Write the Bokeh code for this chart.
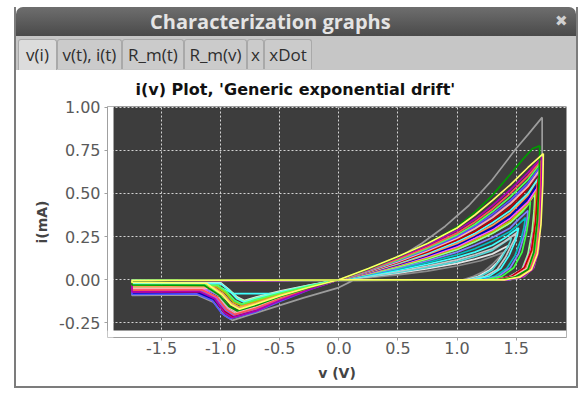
from bokeh.plotting import figure
from bokeh.models import (Div, Column, Range1d, FixedTicker, NumeralTickFormatter,
                          BoxAnnotation)
from bokeh.embed import file_html
from bokeh.resources import INLINE

# ---------------- data (v in V, i in mA) ----------------
x_ticks = [-1.5, -1.0, -0.5, 0.0, 0.5, 1.0, 1.5]
y_ticks = [-0.25, 0.0, 0.25, 0.5, 0.75, 1.0]

loop_gray_outer = [(0, -0.005), (1.0, 0.0), (1.45, 0.0), (1.57, 0.02), (1.65, 0.07), (1.69, 0.18), (1.71, 0.4), (1.72, 0.7), (1.72, 0.94),
                   (1.6, 0.84), (1.5, 0.76), (1.3, 0.58), (1.1, 0.43), (0.9, 0.31), (0.7, 0.21), (0.5, 0.125), (0.25, 0.04), (0, -0.045),
                   (-0.3, -0.105), (-0.6, -0.17), (-0.9, -0.235), (-0.97, -0.205), (-1.06, -0.13), (-1.2, -0.088), (-1.75, -0.09), (-1.75, -0.01), (0, -0.005)]
loop_gray_small = [(0, 0), (1.0, 0.0), (1.05, 0.0), (1.14, 0.02), (1.23, 0.05), (1.3, 0.09), (1.35, 0.125), (1.38, 0.145), (1.40, 0.16),
                   (1.2, 0.11), (1.0, 0.08), (0.75, 0.05), (0.5, 0.028), (0.25, 0.012), (0, 0),
                   (-0.25, -0.052), (-0.5, -0.113), (-0.7, -0.168), (-0.88, -0.205), (-0.95, -0.175), (-1.03, -0.108), (-1.15, -0.065), (-1.75, -0.068), (-1.75, -0.008), (0, 0)]
loop_white = [(0, 0), (1.0, 0.0), (1.08, 0.0), (1.18, 0.02), (1.27, 0.055), (1.34, 0.1), (1.39, 0.15), (1.42, 0.18), (1.44, 0.20),
              (1.3, 0.15), (1.15, 0.12), (1.0, 0.095), (0.75, 0.064), (0.5, 0.038), (0.25, 0.018), (0, 0),
              (-0.25, -0.03), (-0.5, -0.066), (-0.7, -0.1), (-0.8, -0.12), (-0.86, -0.1), (-0.93, -0.055), (-1.0, -0.017), (-1.75, -0.015), (-1.75, -0.003), (0, 0)]
loop_cyan_small = [(0, 0), (1.0, 0.0), (1.1, 0.0), (1.2, 0.02), (1.3, 0.06), (1.37, 0.12), (1.42, 0.18), (1.45, 0.22), (1.46, 0.245),
                   (1.3, 0.17), (1.15, 0.135), (1.0, 0.105), (0.75, 0.072), (0.5, 0.043), (0.25, 0.02), (0, 0),
                   (-0.25, -0.042), (-0.5, -0.09), (-0.7, -0.135), (-0.84, -0.16), (-0.91, -0.135), (-0.98, -0.08), (-1.1, -0.045), (-1.75, -0.045), (-1.75, -0.006), (0, 0)]
loop_light_gray = [(0, 0), (1.0, 0.0), (1.12, 0.0), (1.24, 0.02), (1.34, 0.06), (1.41, 0.13), (1.46, 0.2), (1.49, 0.24), (1.50, 0.27),
                   (1.4, 0.22), (1.3, 0.18), (1.15, 0.145), (1.0, 0.115), (0.75, 0.08), (0.5, 0.048), (0.25, 0.022), (0, 0),
                   (-0.25, -0.05), (-0.5, -0.11), (-0.7, -0.162), (-0.86, -0.2), (-0.93, -0.172), (-1.01, -0.105), (-1.15, -0.063), (-1.75, -0.065), (-1.75, -0.008), (0, 0)]
loop_cyan_flat = [(0, 0), (1.0, 0.0), (1.15, 0.0), (1.27, 0.02), (1.37, 0.065), (1.44, 0.14), (1.49, 0.22), (1.51, 0.26), (1.52, 0.30),
                  (1.4, 0.24), (1.3, 0.20), (1.15, 0.16), (1.0, 0.13), (0.75, 0.09), (0.5, 0.055), (0.25, 0.026), (0, 0),
                  (-0.25, -0.04), (-0.49, -0.08), (-0.89, -0.08), (-0.97, -0.055), (-1.05, -0.032), (-1.75, -0.03), (-1.75, -0.005), (0, 0)]
loop_dark_cyan = [(0, 0), (1.0, 0.0), (1.2, 0.0), (1.32, 0.02), (1.42, 0.065), (1.49, 0.14), (1.54, 0.23), (1.565, 0.30), (1.58, 0.36),
                  (1.52, 0.32), (1.45, 0.28), (1.3, 0.225), (1.15, 0.18), (1.0, 0.145), (0.75, 0.10), (0.5, 0.062), (0.25, 0.03), (0, 0),
                  (-0.25, -0.036), (-0.5, -0.078), (-0.7, -0.118), (-0.82, -0.145), (-0.89, -0.125), (-0.96, -0.072), (-1.05, -0.032), (-1.75, -0.03), (-1.75, -0.005), (0, 0)]
loop_very_light_blue = [(0, 0), (1.0, 0.0), (1.22, 0.0), (1.35, 0.02), (1.45, 0.07), (1.52, 0.15), (1.565, 0.25), (1.59, 0.33), (1.60, 0.40),
                        (1.52, 0.35), (1.45, 0.30), (1.3, 0.245), (1.15, 0.20), (1.0, 0.16), (0.75, 0.11), (0.5, 0.068), (0.25, 0.032), (0, 0),
                        (-0.25, -0.046), (-0.5, -0.1), (-0.7, -0.15), (-0.86, -0.185), (-0.93, -0.16), (-1.0, -0.095), (-1.12, -0.057), (-1.75, -0.055), (-1.75, -0.007), (0, 0)]
loop_green = [(0, 0), (1.0, 0.0), (1.25, 0.0), (1.38, 0.02), (1.48, 0.07), (1.55, 0.16), (1.59, 0.28), (1.61, 0.37), (1.62, 0.45),
              (1.55, 0.39), (1.45, 0.33), (1.3, 0.27), (1.15, 0.22), (1.0, 0.175), (0.75, 0.12), (0.5, 0.075), (0.25, 0.035), (0, 0),
              (-0.25, -0.042), (-0.5, -0.09), (-0.7, -0.136), (-0.84, -0.17), (-0.91, -0.145), (-0.99, -0.085), (-1.08, -0.047), (-1.75, -0.045), (-1.75, -0.006), (0, 0)]
loop_very_light_green = [(0, 0), (1.0, 0.0), (1.32, 0.0), (1.44, 0.017), (1.55, 0.06), (1.60, 0.15), (1.635, 0.28), (1.652, 0.40), (1.66, 0.50),
                         (1.58, 0.42), (1.45, 0.33), (1.3, 0.27), (1.15, 0.22), (1.0, 0.176), (0.75, 0.122), (0.5, 0.076), (0.25, 0.035), (0, 0),
                         (-0.25, -0.032), (-0.5, -0.07), (-0.7, -0.104), (-0.8, -0.125), (-0.86, -0.105), (-0.93, -0.058), (-1.0, -0.022), (-1.75, -0.02), (-1.75, -0.004), (0, 0)]
loop_dark_yellow = [(0, 0), (1.0, 0.0), (1.38, 0.0), (1.50, 0.016), (1.59, 0.06), (1.63, 0.15), (1.65, 0.28), (1.662, 0.41), (1.67, 0.52),
                    (1.6, 0.44), (1.45, 0.34), (1.3, 0.28), (1.15, 0.23), (1.0, 0.184), (0.75, 0.128), (0.5, 0.08), (0.25, 0.037), (0, 0),
                    (-0.25, -0.039), (-0.5, -0.083), (-0.7, -0.125), (-0.82, -0.15), (-0.89, -0.13), (-0.96, -0.075), (-1.04, -0.037), (-1.75, -0.035), (-1.75, -0.005), (0, 0)]
loop_magenta = [(0, 0), (1.0, 0.0), (1.33, 0.0), (1.45, 0.018), (1.56, 0.065), (1.62, 0.16), (1.655, 0.3), (1.672, 0.43), (1.68, 0.54),
                (1.6, 0.45), (1.45, 0.355), (1.3, 0.29), (1.15, 0.24), (1.0, 0.192), (0.75, 0.134), (0.5, 0.084), (0.25, 0.039), (0, 0),
                (-0.25, -0.051), (-0.5, -0.11), (-0.7, -0.165), (-0.88, -0.2), (-0.95, -0.17), (-1.03, -0.105), (-1.14, -0.058), (-1.75, -0.06), (-1.75, -0.007), (0, 0)]
loop_dark_blue = [(0, 0), (1.0, 0.0), (1.42, 0.0), (1.54, 0.02), (1.62, 0.07), (1.66, 0.17), (1.68, 0.32), (1.687, 0.45), (1.69, 0.56),
                  (1.6, 0.47), (1.45, 0.37), (1.3, 0.30), (1.15, 0.25), (1.0, 0.20), (0.75, 0.14), (0.5, 0.088), (0.25, 0.041), (0, 0),
                  (-0.25, -0.055), (-0.5, -0.118), (-0.7, -0.177), (-0.9, -0.215), (-0.97, -0.185), (-1.05, -0.115), (-1.18, -0.078), (-1.75, -0.08), (-1.75, -0.009), (0, 0)]
loop_orange = [(0, 0), (1.0, 0.0), (1.35, 0.0), (1.47, 0.017), (1.57, 0.06), (1.63, 0.16), (1.66, 0.31), (1.675, 0.45), (1.68, 0.58),
               (1.6, 0.49), (1.45, 0.385), (1.3, 0.315), (1.15, 0.26), (1.0, 0.21), (0.75, 0.146), (0.5, 0.092), (0.25, 0.043), (0, 0),
               (-0.25, -0.042), (-0.5, -0.09), (-0.7, -0.135), (-0.84, -0.16), (-0.91, -0.135), (-0.98, -0.08), (-1.06, -0.042), (-1.75, -0.04), (-1.75, -0.005), (0, 0)]
loop_light_cyan = [(0, 0), (1.0, 0.0), (1.40, 0.0), (1.52, 0.015), (1.61, 0.055), (1.66, 0.15), (1.685, 0.3), (1.695, 0.46), (1.70, 0.60),
                   (1.6, 0.50), (1.45, 0.40), (1.3, 0.33), (1.15, 0.27), (1.0, 0.22), (0.75, 0.153), (0.5, 0.096), (0.25, 0.045), (0, 0),
                   (-0.25, -0.033), (-0.5, -0.072), (-0.7, -0.108), (-0.8, -0.13), (-0.86, -0.11), (-0.93, -0.06), (-1.0, -0.022), (-1.75, -0.02), (-1.75, -0.004), (0, 0)]
loop_dark_red = [(0, 0), (1.0, 0.0), (1.34, 0.0), (1.46, 0.02), (1.57, 0.07), (1.63, 0.17), (1.665, 0.34), (1.68, 0.5), (1.69, 0.62),
                 (1.6, 0.53), (1.45, 0.42), (1.3, 0.345), (1.15, 0.28), (1.0, 0.23), (0.75, 0.16), (0.5, 0.10), (0.25, 0.047), (0, 0),
                 (-0.25, -0.054), (-0.5, -0.116), (-0.7, -0.173), (-0.9, -0.21), (-0.97, -0.18), (-1.05, -0.11), (-1.16, -0.068), (-1.75, -0.07), (-1.75, -0.008), (0, 0)]
loop_purple = [(0, 0), (1.0, 0.0), (1.39, 0.0), (1.51, 0.017), (1.61, 0.062), (1.665, 0.16), (1.69, 0.32), (1.70, 0.49), (1.705, 0.63),
               (1.6, 0.545), (1.45, 0.445), (1.3, 0.365), (1.15, 0.30), (1.0, 0.245), (0.75, 0.172), (0.5, 0.108), (0.25, 0.051), (0, 0),
               (-0.25, -0.053), (-0.5, -0.114), (-0.7, -0.17), (-0.89, -0.205), (-0.96, -0.175), (-1.04, -0.108), (-1.17, -0.065), (-1.75, -0.068), (-1.75, -0.008), (0, 0)]
loop_pink = [(0, 0), (1.0, 0.0), (1.36, 0.0), (1.48, 0.018), (1.59, 0.065), (1.65, 0.17), (1.68, 0.34), (1.695, 0.5), (1.70, 0.64),
             (1.6, 0.54), (1.45, 0.44), (1.3, 0.36), (1.15, 0.295), (1.0, 0.24), (0.75, 0.168), (0.5, 0.105), (0.25, 0.05), (0, 0),
             (-0.25, -0.049), (-0.5, -0.105), (-0.7, -0.158), (-0.86, -0.19), (-0.93, -0.16), (-1.0, -0.095), (-1.1, -0.05), (-1.75, -0.05), (-1.75, -0.006), (0, 0)]
loop_blue = [(0, 0), (1.0, 0.0), (1.44, 0.0), (1.56, 0.02), (1.64, 0.07), (1.68, 0.17), (1.70, 0.34), (1.705, 0.52), (1.71, 0.66),
             (1.6, 0.56), (1.45, 0.46), (1.3, 0.38), (1.15, 0.31), (1.0, 0.25), (0.75, 0.175), (0.5, 0.11), (0.25, 0.052), (0, 0),
             (-0.25, -0.058), (-0.5, -0.125), (-0.7, -0.185), (-0.92, -0.225), (-0.99, -0.195), (-1.07, -0.12), (-1.2, -0.082), (-1.75, -0.085), (-1.75, -0.009), (0, 0)]
loop_light_green = [(0, 0), (1.0, 0.0), (1.38, 0.0), (1.50, 0.016), (1.60, 0.06), (1.66, 0.16), (1.685, 0.33), (1.695, 0.52), (1.70, 0.67),
                    (1.6, 0.58), (1.45, 0.48), (1.3, 0.395), (1.15, 0.32), (1.0, 0.26), (0.75, 0.182), (0.5, 0.115), (0.25, 0.055), (0, 0),
                    (-0.25, -0.036), (-0.5, -0.078), (-0.7, -0.115), (-0.82, -0.14), (-0.88, -0.12), (-0.95, -0.07), (-1.02, -0.032), (-1.75, -0.03), (-1.75, -0.005), (0, 0)]
loop_red = [(0, 0), (1.0, 0.0), (1.40, 0.0), (1.52, 0.018), (1.62, 0.065), (1.67, 0.16), (1.695, 0.34), (1.705, 0.55), (1.71, 0.69),
            (1.6, 0.60), (1.45, 0.50), (1.3, 0.41), (1.15, 0.335), (1.0, 0.27), (0.75, 0.19), (0.5, 0.12), (0.25, 0.057), (0, 0),
            (-0.25, -0.051), (-0.5, -0.11), (-0.7, -0.165), (-0.88, -0.20), (-0.95, -0.17), (-1.03, -0.10), (-1.16, -0.058), (-1.75, -0.06), (-1.75, -0.007), (0, 0)]
loop_dark_magenta = [(0, 0), (1.0, 0.0), (1.42, 0.0), (1.55, 0.015), (1.64, 0.06), (1.685, 0.15), (1.705, 0.32), (1.715, 0.55), (1.72, 0.71),
                     (1.6, 0.62), (1.45, 0.52), (1.3, 0.43), (1.15, 0.35), (1.0, 0.285), (0.75, 0.20), (0.5, 0.128), (0.25, 0.06), (0, 0),
                     (-0.25, -0.056), (-0.5, -0.12), (-0.7, -0.18), (-0.9, -0.22), (-0.97, -0.19), (-1.05, -0.11), (-1.18, -0.068), (-1.75, -0.07), (-1.75, -0.008), (0, 0)]
loop_dark_green = [(0, 0), (1.0, 0.0), (1.36, 0.0), (1.49, 0.015), (1.60, 0.06), (1.65, 0.16), (1.68, 0.35), (1.695, 0.6), (1.70, 0.775),
                   (1.64, 0.76), (1.56, 0.70), (1.45, 0.61), (1.3, 0.49), (1.15, 0.39), (1.0, 0.305), (0.75, 0.21), (0.5, 0.132), (0.25, 0.063), (0, 0),
                   (-0.25, -0.046), (-0.5, -0.098), (-0.7, -0.148), (-0.86, -0.18), (-0.93, -0.155), (-1.01, -0.09), (-1.14, -0.032), (-1.75, -0.03), (-1.75, -0.006), (0, 0)]
loop_yellow = [(0, 0), (1.0, 0.0), (1.40, 0.0), (1.53, 0.015), (1.63, 0.06), (1.68, 0.15), (1.71, 0.32), (1.725, 0.55), (1.73, 0.73),
               (1.6, 0.65), (1.45, 0.55), (1.3, 0.46), (1.15, 0.375), (1.0, 0.30), (0.75, 0.21), (0.5, 0.135), (0.25, 0.065), (0, 0),
               (-0.25, -0.043), (-0.5, -0.093), (-0.7, -0.14), (-0.84, -0.17), (-0.91, -0.145), (-0.99, -0.085), (-1.12, -0.02), (-1.75, -0.015), (-1.75, -0.004), (0, 0)]

loops = [loop_gray_outer, loop_gray_small, loop_white, loop_cyan_small, loop_light_gray, loop_cyan_flat,
         loop_dark_cyan, loop_very_light_blue, loop_green, loop_very_light_green, loop_dark_yellow,
         loop_magenta, loop_dark_blue, loop_orange, loop_light_cyan, loop_dark_red, loop_purple,
         loop_pink, loop_blue, loop_light_green, loop_red, loop_dark_magenta, loop_dark_green, loop_yellow]
loop_colors = ["#9c9c9c", "#8a8a8a", "#e6e6e6", "#4fd8d8", "#c8c8c8", "#40ffff",
               "#00c0c0", "#8080ff", "#40ff40", "#99ff99", "#c0c000",
               "#ff55ff", "#0000c0", "#ff9955", "#55ffff", "#c00000", "#9955dd",
               "#ffafaf", "#5555ff", "#55ff55", "#ff5555", "#b000b0", "#009a00", "#ffff66"]

tab_labels = ["v(i)", "v(t), i(t)", "R_m(t)", "R_m(v)", "x", "xDot"]

# ---------------- chart ----------------
W = 560
p = figure(width=W, height=316, output_backend="svg", toolbar_location=None,
           x_range=Range1d(-1.957, 1.926), y_range=Range1d(-0.334, 1.003),
           min_border_left=91, min_border_right=10, min_border_top=36, min_border_bottom=49,
           background_fill_color="#3d3d3d", border_fill_color="white", outline_line_color=None)

p.title.text = "i(v)  Plot, 'Generic exponential drift'"
p.title.text_font = "DejaVu Sans"
p.title.text_font_size = "16px"
p.title.text_font_style = "bold"
p.title.text_color = "#111111"
p.title.align = "left"
p.title.offset = 28
p.title.standoff = 15

for ax, ticks, fmt, bnds, lab, lstand in ((p.xaxis[0], x_ticks, "0.0", (-1.906, 1.926), "v (V)", 8),
                                          (p.yaxis[0], y_ticks, "0.00", (-0.293, 1.003), "i(mA)", 6)):
    ax.ticker = FixedTicker(ticks=ticks)
    ax.formatter = NumeralTickFormatter(format=fmt)
    ax.bounds = bnds
    ax.axis_label = lab
    ax.axis_label_text_font = "DejaVu Sans"
    ax.axis_label_text_font_size = "14px"
    ax.axis_label_text_font_style = "bold"
    ax.axis_label_text_color = "#444444"
    ax.axis_label_standoff = lstand
    ax.major_label_text_font = "DejaVu Sans"
    ax.major_label_text_font_size = "16px"
    ax.major_label_text_color = "#5a5a5a"
    ax.axis_line_color = "#a0a0a0"
    ax.major_tick_line_color = "#a0a0a0"
    ax.major_tick_out = 3
    ax.major_tick_in = 0
    ax.minor_tick_line_color = None
p.xaxis[0].major_label_standoff = 1
p.yaxis[0].major_label_standoff = 4

for g, ticks in ((p.xgrid[0], x_ticks), (p.ygrid[0], y_ticks)):
    g.ticker = FixedTicker(ticks=ticks)
    g.grid_line_color = "#d4d4d4"
    g.grid_line_dash = "2 2"
    g.grid_line_width = 1

# white gaps between the axes and the dark data area
p.add_layout(BoxAnnotation(right=-1.906, fill_color="white", fill_alpha=1.0, line_color=None, level="underlay"))
p.add_layout(BoxAnnotation(top=-0.293, fill_color="white", fill_alpha=1.0, line_color=None, level="underlay"))

for loop, col in zip(loops, loop_colors):
    p.line([pt[0] for pt in loop], [pt[1] for pt in loop], line_color=col, line_width=1.7)

# ---------------- window chrome ----------------
title_html = ('<div style="position:relative;width:%dpx;height:29px;overflow:hidden;">'
              '<span style="position:absolute;left:134px;top:0px;font-family:\'Open Sans\';font-weight:bold;'
              'font-size:20px;line-height:29px;color:#e4e4e4;white-space:nowrap;">Characterization graphs</span>'
              '<span style="position:absolute;left:539px;top:0px;font-family:\'DejaVu Sans\';font-weight:bold;'
              'font-size:15px;line-height:29px;color:#d0d0d0;">&#10006;</span></div>') % W
title_div = Div(text=title_html, width=W, height=29, margin=0,
                styles={"background": "linear-gradient(#6e6e6e, #4a4a4a)", "border-radius": "7px 7px 0 0"})

tab_left = [2, 41, 106, 168, 231, 248]
tab_width = [39, 65, 62, 63, 17, 48]
spans = []
for k, (lab, lft, wd) in enumerate(zip(tab_labels, tab_left, tab_width)):
    sel = (k == 0)
    spans.append('<span style="position:absolute;left:%dpx;top:3px;width:%dpx;height:%dpx;box-sizing:border-box;'
                 'background:%s;border:1px solid #a9a9a9;border-bottom:none;border-radius:3px 3px 0 0;'
                 'text-align:center;line-height:29px;font-family:\'Open Sans\';font-size:17px;color:#2e2e2e;'
                 'white-space:nowrap;overflow:hidden;">%s</span>' % (lft, wd, 31 if sel else 30, "#dcdcdc" if sel else "#cbcbcb", lab))
tabs_html = ('<div style="position:relative;width:%dpx;height:34px;overflow:hidden;">' % W) + "".join(spans) + '</div>'
tabs_div = Div(text=tabs_html, width=W, height=34, margin=0, styles={"background": "#c6c6c6"})

layout = Column(children=[title_div, tabs_div, p], spacing=0, margin=0,
                styles={"margin-left": "14px", "margin-top": "7px",
                        "border-left": "2px solid #7c7c7c", "border-right": "2px solid #7c7c7c",
                        "border-bottom": "2px solid #7c7c7c"})

open("out.html", "w").write(file_html(layout, INLINE))
